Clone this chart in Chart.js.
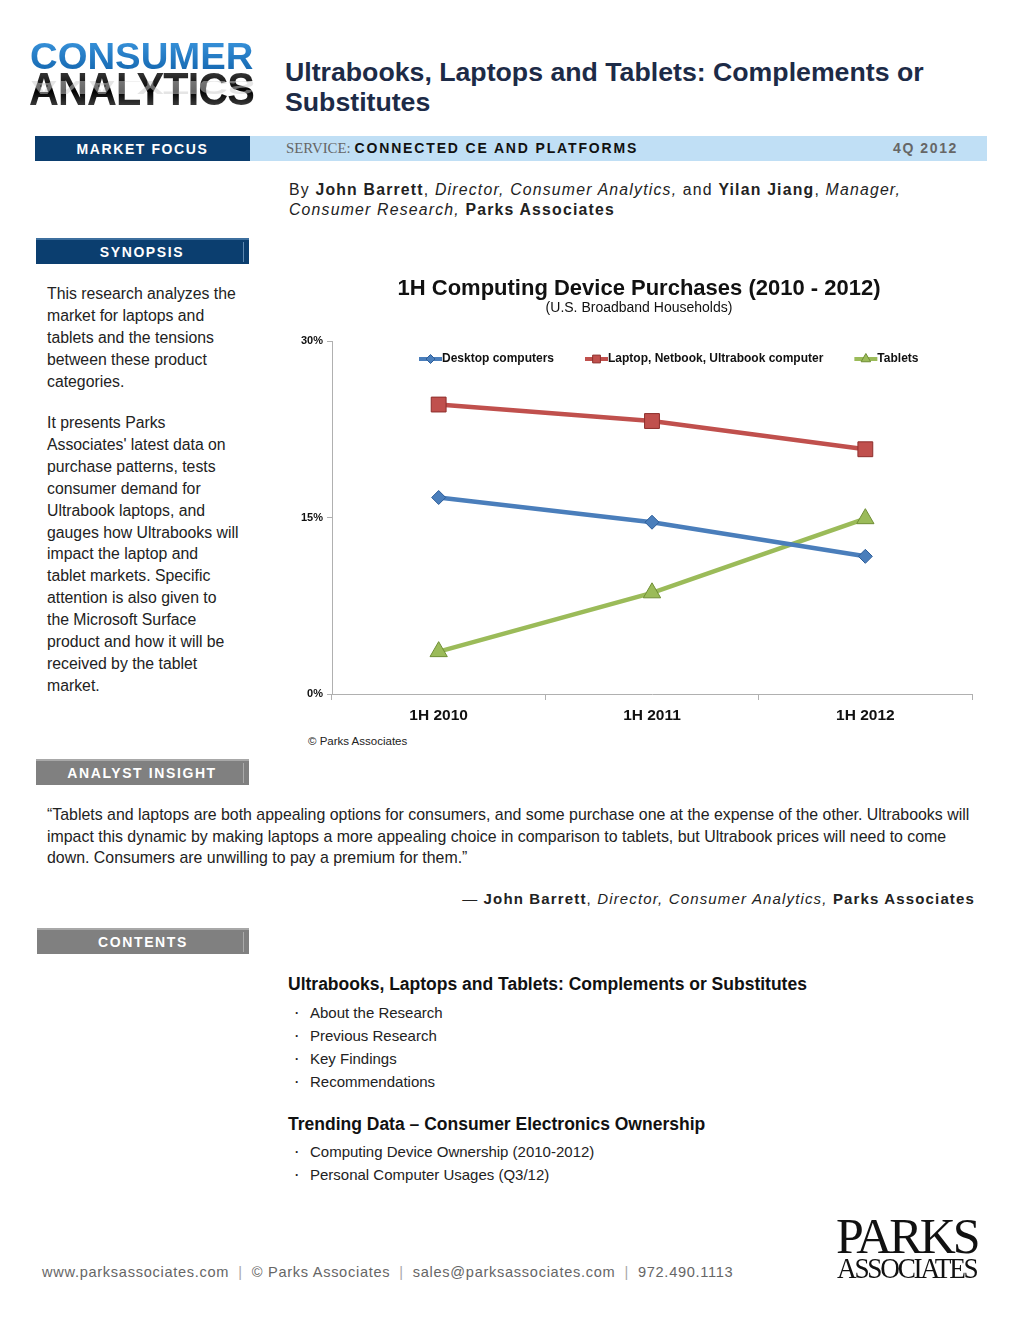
<!DOCTYPE html>
<html><head><meta charset="utf-8">
<script src="https://cdn.jsdelivr.net/npm/chart.js@4.4.1/dist/chart.umd.min.js"></script>
<style>
*{margin:0;padding:0;box-sizing:border-box}
body{width:1020px;height:1320px;background:#fff;font-family:"Liberation Sans",Arial,Helvetica,sans-serif;position:relative;overflow:hidden;color:#222}
.abs{position:absolute;white-space:nowrap}
.logo1{left:30px;top:36px;font-size:37px;font-weight:bold;letter-spacing:0px;transform-origin:0 0;transform:scaleX(1.035);background:linear-gradient(#3d98e0,#0d5fa8);-webkit-background-clip:text;color:transparent}
.logo2{left:29px;top:61px;font-size:47px;font-weight:bold;letter-spacing:-1px;transform-origin:0 0;transform:scaleX(0.88);background:linear-gradient(#555 0%,#111 45%,#000 55%,#666 100%);-webkit-background-clip:text;color:transparent}
.logo3{left:29px;top:99px;font-size:47px;font-weight:bold;letter-spacing:-1px;transform-origin:0 0;transform:scaleX(0.88) scaleY(-0.45);color:#ccc;opacity:.5;height:40px;overflow:hidden}
.title{left:285px;top:57px;font-size:26.7px;font-weight:bold;color:#1d2b47;line-height:30px;white-space:normal;width:700px}
.bar{top:136px;height:25px}
.hdr{font-weight:bold;color:#fff;font-size:14px;letter-spacing:1.6px;text-align:center;line-height:25px}
.side{left:47px;font-size:15.8px;line-height:21.9px;color:#222}
.by{left:289px;font-size:15.8px;letter-spacing:1.2px;color:#222}
.by i{font-style:italic}
.q{left:47px;top:804px;font-size:15.9px;line-height:21.7px;color:#222}
.h2{left:288px;font-size:17.5px;font-weight:bold;color:#111}
.li{left:310px;font-size:15px;color:#222}
.dot{left:295px;font-size:12px;color:#222;font-weight:bold}
.foot{left:42px;top:1264px;font-size:14.6px;color:#666;letter-spacing:0.7px}
.foot span{color:#aaa;margin:0 9px}
</style></head>
<body>
<div class="abs logo1">CONSUMER</div>
<div class="abs logo2">ANALYTICS</div>
<div class="abs logo3">ANALYTICS</div>
<div class="abs title">Ultrabooks, Laptops and Tablets: Complements or<br>Substitutes</div>

<div class="abs bar" style="left:35px;width:215px;background:#0b3e6f"><div class="hdr" style="line-height:27px">MARKET FOCUS</div></div>
<div class="abs bar" style="left:250px;width:737px;background:#c0dff5"></div>
<div class="abs" style="left:286px;top:140px;font-size:14px;line-height:16px"><span style="font-family:'Liberation Serif',serif;color:#666;font-size:14.8px">SERVICE:</span> <b style="letter-spacing:1.85px;color:#111">CONNECTED CE AND PLATFORMS</b></div>
<div class="abs" style="left:893px;top:140px;font-size:14px;line-height:16px;font-weight:bold;color:#666;letter-spacing:1.6px">4Q 2012</div>

<div class="abs by" style="top:181px">By <b>John Barrett</b>, <i>Director, Consumer Analytics,</i> and <b>Yilan Jiang</b>, <i>Manager,</i></div>
<div class="abs by" style="top:201px"><i>Consumer Research,</i> <b>Parks Associates</b></div>

<div class="abs" style="left:36px;top:238px;width:213px;height:26px;background:#0b3e6f;border-top:2px solid #3d6f9e"><div class="hdr" style="line-height:24px;margin-left:-1px">SYNOPSIS</div><div style="position:absolute;right:5px;top:2px;width:1px;height:20px;background:#5d87b0"></div></div>

<div class="abs side" style="top:283px">This research analyzes the<br>market for laptops and<br>tablets and the tensions<br>between these product<br>categories.</div>
<div class="abs side" style="top:412px">It presents Parks<br>Associates' latest data on<br>purchase patterns, tests<br>consumer demand for<br>Ultrabook laptops, and<br>gauges how Ultrabooks will<br>impact the laptop and<br>tablet markets. Specific<br>attention is also given to<br>the Microsoft Surface<br>product and how it will be<br>received by the tablet<br>market.</div>

<div class="abs" style="left:291px;top:270px;width:700px;height:460px"><canvas id="c" width="700" height="460"></canvas></div>
<div class="abs" style="left:308px;top:735px;font-size:11.5px;color:#222">© Parks Associates</div>

<div class="abs" style="left:36px;top:759px;width:213px;height:26px;background:#808080;border-top:2px solid #a8a8a8"><div class="hdr" style="line-height:24px;margin-left:-1px">ANALYST INSIGHT</div><div style="position:absolute;right:5px;top:2px;width:1px;height:20px;background:#aaa"></div></div>

<div class="abs q">“Tablets and laptops are both appealing options for consumers, and some purchase one at the expense of the other. Ultrabooks will<br>impact this dynamic by making laptops a more appealing choice in comparison to tablets, but Ultrabook prices will need to come<br>down. Consumers are unwilling to pay a premium for them.”</div>
<div class="abs" style="right:45px;top:890px;font-size:15px;letter-spacing:1.15px;color:#222">— <b>John Barrett</b>, <i>Director, Consumer Analytics,</i> <b>Parks Associates</b></div>

<div class="abs" style="left:37px;top:928px;width:212px;height:26px;background:#808080;border-top:2px solid #a8a8a8"><div class="hdr" style="line-height:24px;margin-left:0px">CONTENTS</div><div style="position:absolute;right:5px;top:2px;width:1px;height:20px;background:#aaa"></div></div>

<div class="abs h2" style="top:974px">Ultrabooks, Laptops and Tablets: Complements or Substitutes</div>
<div class="abs dot" style="top:1006px">·</div><div class="abs li" style="top:1004px">About the Research</div>
<div class="abs dot" style="top:1029px">·</div><div class="abs li" style="top:1027px">Previous Research</div>
<div class="abs dot" style="top:1052px">·</div><div class="abs li" style="top:1050px">Key Findings</div>
<div class="abs dot" style="top:1075px">·</div><div class="abs li" style="top:1073px">Recommendations</div>
<div class="abs h2" style="top:1114px">Trending Data – Consumer Electronics Ownership</div>
<div class="abs dot" style="top:1145px">·</div><div class="abs li" style="top:1143px">Computing Device Ownership (2010-2012)</div>
<div class="abs dot" style="top:1168px">·</div><div class="abs li" style="top:1166px">Personal Computer Usages (Q3/12)</div>

<div class="abs foot">www.parksassociates.com<span>|</span>© Parks Associates<span>|</span>sales@parksassociates.com<span>|</span>972.490.1113</div>

<div class="abs" style="left:836px;top:1211px;font-family:'Liberation Serif','DejaVu Serif',serif;font-size:50px;line-height:50px;color:#111;letter-spacing:-3px;transform-origin:0 0;transform:scaleX(1.0)">PARKS</div>
<div class="abs" style="left:837px;top:1254px;font-family:'Liberation Serif','DejaVu Serif',serif;font-size:29px;line-height:29px;color:#111;letter-spacing:-2.4px;transform-origin:0 0;transform:scaleX(0.94)">ASSOCIATES</div>

<script>
const categories = ["1H 2010", "1H 2011", "1H 2012"];
const desktop = [16.7, 14.6, 11.7];
const laptop = [24.6, 23.2, 20.8];
const tablets = [3.6, 8.6, 14.9];
const seriesNames = ["Desktop computers", "Laptop, Netbook, Ultrabook computer", "Tablets"];
const yTicks = [0, 15, 30];

const colors = ["#4a7ebb", "#c0504d", "#9bbb59"];
const borders = ["#2c5d99", "#8e2f2c", "#6f8e35"];
const shapes = ["rectRot", "rect", "triangle"];
const radii = [7, 10.5, 10];

const titleShift = {
  id: 'titleShift',
  afterLayout(chart) {
    chart.boxes.forEach(b => {
      if (b.options && typeof b.options.text === 'string' && b.position === 'top') {
        b.left += 7.5; b.right += 7.5;
      }
    });
  }
};

const legendPlugin = {
  id: 'innerLegend',
  afterDatasetsDraw(chart) {
    const ctx = chart.ctx;
    const ca = chart.chartArea;
    const y = ca.top + 18;
    let x = ca.left + 87;
    ctx.save();
    ctx.font = 'bold 12px "Liberation Sans", Arial, sans-serif';
    ctx.textBaseline = 'middle';
    chart.data.datasets.forEach((ds, i) => {
      ctx.strokeStyle = ds.borderColor;
      ctx.lineWidth = 4;
      ctx.beginPath(); ctx.moveTo(x, y); ctx.lineTo(x + 23, y); ctx.stroke();
      ctx.fillStyle = ds.pointBackgroundColor;
      ctx.strokeStyle = ds.pointBorderColor;
      ctx.lineWidth = 1;
      Chart.helpers.drawPoint(ctx, {pointStyle: ds.pointStyle, rotation: 0, borderWidth: 1, radius: i === 0 ? 4.5 : 5.5}, x + 11.5, y);
      ctx.fillStyle = '#111';
      ctx.fillText(ds.label, x + 23, y);
      x += 23 + ctx.measureText(ds.label).width + 31;
    });
    ctx.restore();
  }
};

const mk = (i, data) => ({
  label: seriesNames[i], data,
  borderColor: colors[i], backgroundColor: colors[i], borderWidth: 4.5,
  pointStyle: shapes[i], pointRadius: radii[i], pointHoverRadius: radii[i],
  pointBackgroundColor: colors[i], pointBorderColor: borders[i], pointBorderWidth: 1,
  tension: 0
});

new Chart(document.getElementById('c'), {
  type: 'line',
  data: { labels: categories, datasets: [mk(0, desktop), mk(1, laptop), mk(2, tablets)] },
  plugins: [titleShift, legendPlugin],
  options: {
    responsive: false, animation: false,
    layout: { padding: { left: 0, right: 19, top: 0, bottom: 0 } },
    plugins: {
      legend: { display: false }, tooltip: { enabled: false },
      title: { display: true, text: '1H Computing Device Purchases (2010 - 2012)', color: '#111',
        font: { family: '"Liberation Sans", Arial, sans-serif', size: 22, weight: 'bold', lineHeight: 1 },
        padding: { top: 8, bottom: 0 } },
      subtitle: { display: true, text: '(U.S. Broadband Households)', color: '#111',
        font: { family: '"Liberation Sans", Arial, sans-serif', size: 14, lineHeight: 1 },
        padding: { top: 1, bottom: 26 } }
    },
    scales: {
      x: {
        offset: true,
        grid: { display: true, offset: true, drawOnChartArea: false, drawTicks: true, tickLength: 6, color: '#b0b0b0', lineWidth: 1 },
        border: { display: true, color: '#b0b0b0', width: 1 },
        ticks: { color: '#111', padding: 6, font: { family: '"Liberation Sans", Arial, sans-serif', size: 15.5, weight: 'bold' } },
        afterFit(s) { s.height = 36; }
      },
      y: {
        min: 0, max: 30,
        afterBuildTicks(s) { s.ticks = yTicks.map(v => ({ value: v })); },
        grid: { display: true, drawOnChartArea: false, drawTicks: true, tickLength: 5, color: '#b0b0b0' },
        border: { display: true, color: '#b0b0b0', width: 1 },
        ticks: { color: '#111', padding: 4, callback: v => v + '%', font: { family: '"Liberation Sans", Arial, sans-serif', size: 11, weight: 'bold' } },
        afterFit(s) { s.width = 41; }
      }
    }
  }
});
</script>
</body></html>
